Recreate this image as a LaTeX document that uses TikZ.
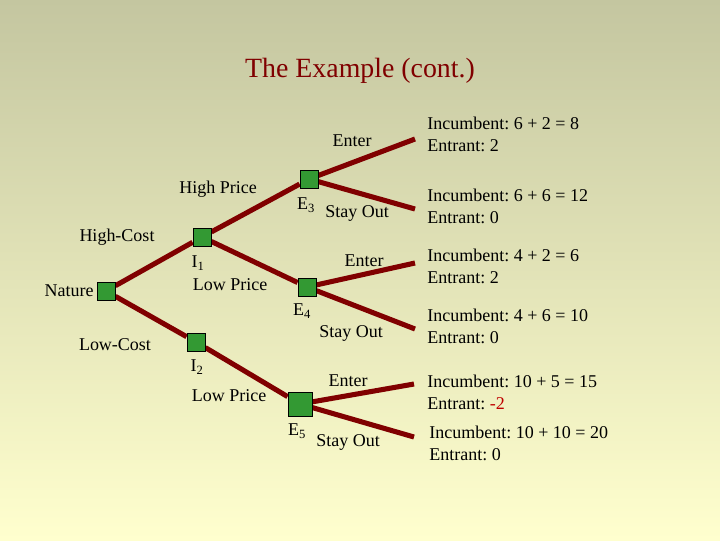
\documentclass[tikz,border=0pt]{standalone}
\usepackage{fontspec}
\setmainfont{Liberation Serif}
\usepackage{xcolor}
\usepackage{tikz}
\frenchspacing

\definecolor{bgtop}{RGB}{196,198,160}
\definecolor{bgbot}{RGB}{255,255,206}
\definecolor{branch}{RGB}{128,0,0}
\definecolor{nodegreen}{RGB}{51,153,51}

\tikzset{
  gnode/.style={draw=black, fill=nodegreen, line width=0.6pt, minimum size=0.45cm, inner sep=0pt},
  lbl/.style={font=\fontsize{12.8}{15.6}\selectfont, inner sep=0pt},
  payoff/.style={lbl, anchor=west, align=left},
  branchline/.style={draw=branch, line width=3.6pt}
}

\begin{document}
\begin{tikzpicture}[x=0.025cm, y=-0.025cm]
% Background
\shade[top color=bgtop, bottom color=bgbot] (0,0) rectangle (720,540);
\useasboundingbox (0,0) rectangle (720,540);

% Title
\node[inner sep=0pt, text=branch, font=\fontsize{19.8}{24}\selectfont] (title) at (360,71) {The Example (cont.)};

% Decision nodes
\node[gnode] (nature) at (106,291) {};
\node[gnode] (i1) at (202,237) {};
\node[gnode] (i2) at (196,342) {};
\node[gnode] (e3) at (309,179) {};
\node[gnode] (e4) at (307,287) {};
\node[gnode, minimum size=0.6cm] (e5) at (300,404) {};

% Ends of the branches
\coordinate (t1) at (415,139);
\coordinate (t2) at (415,209);
\coordinate (t3) at (415,263);
\coordinate (t4) at (415,329);
\coordinate (t5) at (414,384);
\coordinate (t6) at (414,437);

% Branches
\draw[branchline] (nature) -- (i1);
\draw[branchline] (nature) -- (i2);
\draw[branchline] (i1) -- (e3);
\draw[branchline] (i1) -- (e4);
\draw[branchline] (i2) -- (e5);
\draw[branchline] (e3) -- (t1);
\draw[branchline] (e3) -- (t2);
\draw[branchline] (e4) -- (t3);
\draw[branchline] (e4) -- (t4);
\draw[branchline] (e5) -- (t5);
\draw[branchline] (e5) -- (t6);

% Redraw the squares on top of the branches
\node[gnode] at (nature) {};
\node[gnode] at (i1) {};
\node[gnode] at (i2) {};
\node[gnode] at (e3) {};
\node[gnode] at (e4) {};
\node[gnode, minimum size=0.6cm] at (e5) {};

% Labels
\node[lbl] (lnature) at (69,291) {Nature};
\node[lbl] (lhighcost) at (117,237) {High-Cost};
\node[lbl] (llowcost) at (115,345) {Low-Cost};
\node[lbl] (li1) at (198,263) {I\textsubscript{1}};
\node[lbl] (li2) at (197,367) {I\textsubscript{2}};
\node[lbl] (lhigh) at (218,189) {High Price};
\node[lbl] (llow1) at (230,285) {Low Price};
\node[lbl] (llow2) at (229,396) {Low Price};
\node[lbl] (le3) at (306,205) {E\textsubscript{3}};
\node[lbl] (le4) at (302,311) {E\textsubscript{4}};
\node[lbl] (le5) at (297,431) {E\textsubscript{5}};
\node[lbl] (lenter3) at (352,141) {Enter};
\node[lbl] (lstay3) at (357,213) {Stay Out};
\node[lbl] (lenter4) at (364,261) {Enter};
\node[lbl] (lstay4) at (351,333) {Stay Out};
\node[lbl] (lenter5) at (348,381) {Enter};
\node[lbl] (lstay5) at (348,442) {Stay Out};

% Payoffs
\node[payoff] (p1) at (427,134) {Incumbent: 6 + 2 = 8\\Entrant: 2};
\node[payoff] (p2) at (427,206.5) {Incumbent: 6 + 6 = 12\\Entrant: 0};
\node[payoff] (p3) at (427,266.5) {Incumbent: 4 + 2 = 6\\Entrant: 2};
\node[payoff] (p4) at (427,326) {Incumbent: 4 + 6 = 10\\Entrant: 0};
\node[payoff] (p5) at (427,392.5) {Incumbent: 10 + 5 = 15\\Entrant: \textcolor{red!75!black}{-2}};
\node[payoff] (p6) at (429,443.5) {Incumbent: 10 + 10 = 20\\Entrant: 0};
\end{tikzpicture}
\end{document}
